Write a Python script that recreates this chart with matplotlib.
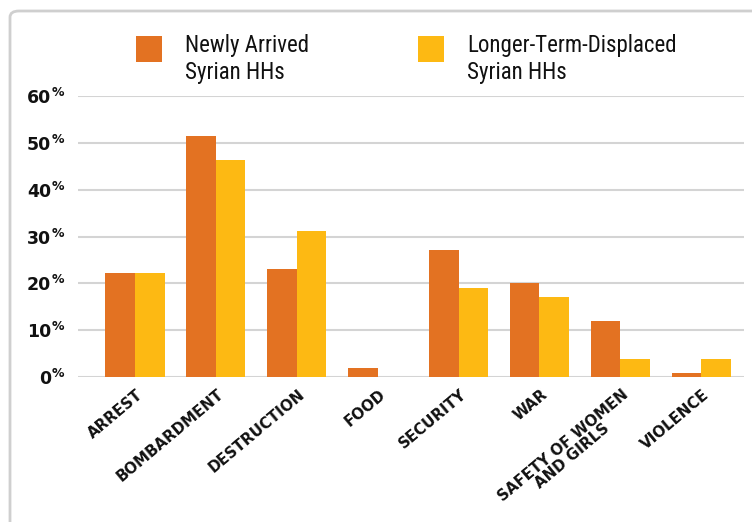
import matplotlib
matplotlib.use("Agg")
import matplotlib.pyplot as plt
from matplotlib import font_manager as fm
from matplotlib.patches import FancyBboxPatch, Rectangle
from matplotlib.transforms import offset_copy
import numpy as np

categories = ["ARREST", "BOMBARDMENT", "DESTRUCTION", "FOOD", "SECURITY", "WAR",
              "SAFETY OF WOMEN\nAND GIRLS", "VIOLENCE"]
newly_arrived = [22.2, 51.5, 23.0, 1.9, 27.1, 20.0, 12.0, 0.9]
longer_term = [22.2, 46.3, 31.2, 0.0, 19.0, 17.0, 3.9, 3.9]
series_names = ["Newly Arrived\nSyrian HHs", "Longer-Term-Displaced\nSyrian HHs"]
yticks = [0, 10, 20, 30, 40, 50, 60]

ORANGE = "#E37222"
YELLOW = "#FDB913"
GRID = "#d4d4d4"
TXT = "#111111"

available = {f.name for f in fm.fontManager.ttflist}
legend_family = "DejaVu Sans"
for cand in ["Roboto Condensed", "Liberation Sans Narrow", "Open Sans Condensed",
             "Noto Sans Condensed", "DejaVu Sans Condensed"]:
    if cand in available:
        legend_family = cand
        break
plt.rcParams["font.family"] = ["DejaVu Sans"]

W, H = 752, 522
fig = plt.figure(figsize=(W / 100, H / 100), dpi=100)

# frame (top-left corner visible, extends past right and bottom edges)
frame = FancyBboxPatch((10 / W, 1 - 580 / H), 800 / W, 569 / H,
                       boxstyle="round,pad=0,rounding_size=0.012",
                       transform=fig.transFigure, facecolor="none",
                       edgecolor="#cfcfcf", linewidth=2.0, zorder=-1)
fig.patches.append(frame)

ax = fig.add_axes([78 / W, 1 - 377 / H, (744 - 78) / W, (377 - 96) / H])
ax.set_facecolor("none")
x = np.arange(len(categories))
bw = 0.365
ax.bar(x - bw / 2, newly_arrived, width=bw, color=ORANGE, zorder=3)
ax.bar(x + bw / 2, longer_term, width=bw, color=YELLOW, zorder=3)

ax.set_xlim(-0.705, 7.53)
ax.set_ylim(0, 60)
ax.set_yticks(yticks)
ax.yaxis.grid(True, color=GRID, linewidth=1.5, zorder=0)
ax.set_axisbelow(True)
for s in ax.spines.values():
    s.set_visible(False)
ax.tick_params(axis="both", length=0)
ax.set_yticklabels([])

# y tick labels: bold number + smaller raised percent sign
for v in yticks:
    ax.annotate("%", xy=(0, v), xycoords=("axes fraction", "data"),
                xytext=(-10, 2.5), textcoords="offset points", ha="right", va="center",
                fontsize=9, fontweight="bold", color=TXT)
    ax.annotate(str(v), xy=(0, v), xycoords=("axes fraction", "data"),
                xytext=(-19.5, -1.5), textcoords="offset points", ha="right", va="center",
                fontsize=12.5, fontweight="bold", color=TXT)

ax.set_xticks(x)
ax.set_xticklabels([])
base = offset_copy(ax.get_xaxis_transform(), fig=fig, x=1, y=-7, units="points")
for xi, lab in zip(x, categories):
    ax.text(xi, 0, lab, transform=base, rotation=40, ha="right", va="top",
            rotation_mode="anchor", fontsize=10.8, fontweight="bold",
            multialignment="center", color=TXT, linespacing=0.92)

# legend
for (sx, col, tx, name) in [(136, ORANGE, 185, series_names[0]),
                            (418, YELLOW, 467, series_names[1])]:
    fig.patches.append(Rectangle((sx / W, 1 - 62 / H), 26 / W, 26 / H,
                                 transform=fig.transFigure, facecolor=col,
                                 edgecolor="none"))
    fig.text(tx / W, 1 - 59 / H, name, ha="left", va="center", fontsize=16.5,
             color=TXT, linespacing=1.2, family=[legend_family, "DejaVu Sans"])

fig.savefig("out.png", dpi=100)
